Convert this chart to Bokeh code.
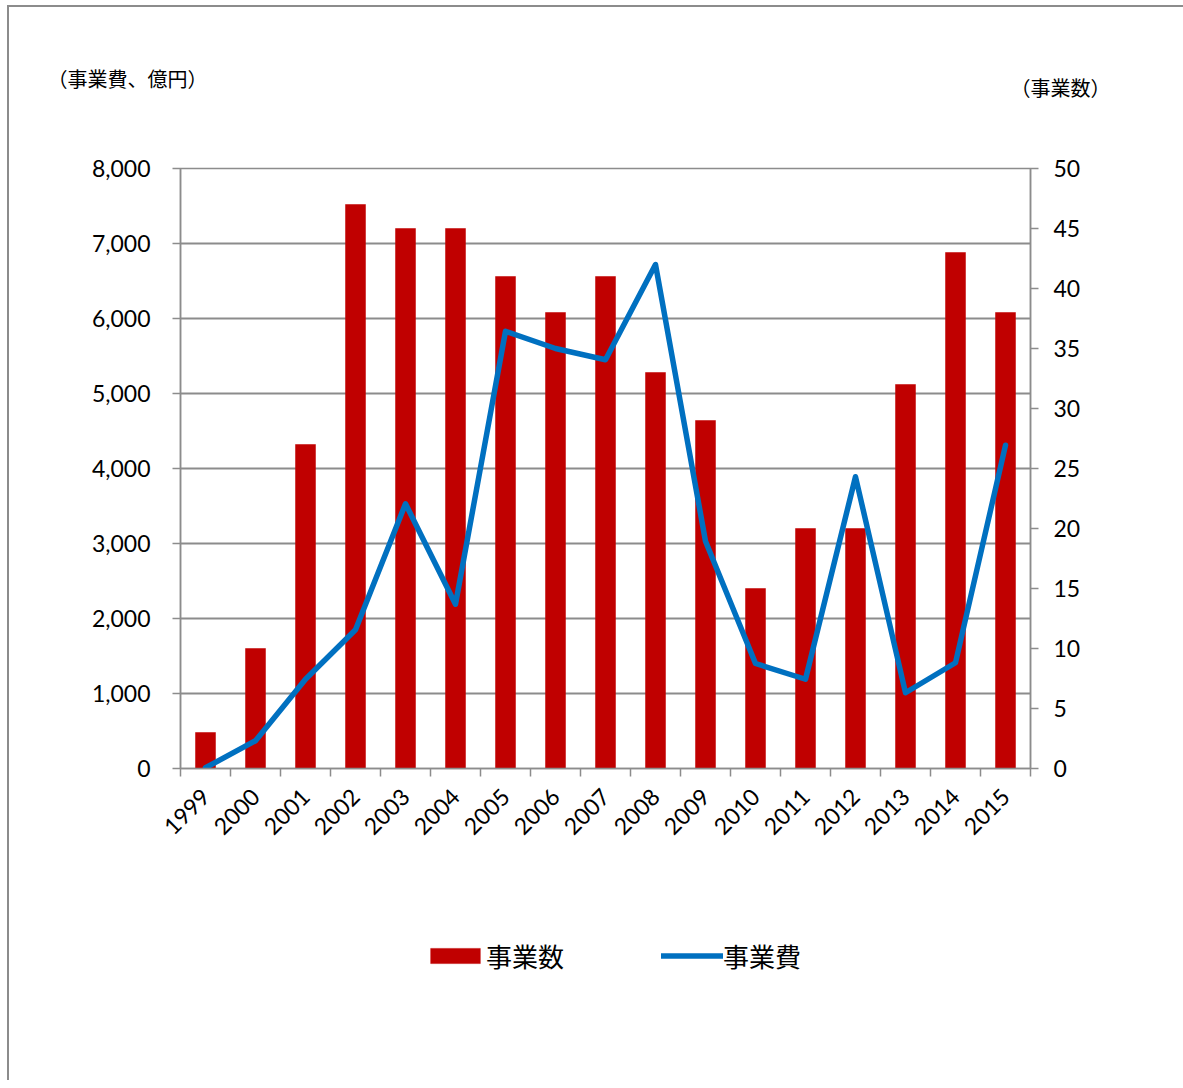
from bokeh.plotting import figure
from bokeh.layouts import column
from bokeh.models import (Range1d, LinearAxis, FixedTicker, NumeralTickFormatter,
                          Legend, LegendItem, Label, ColumnDataSource, Grid)
from bokeh.embed import file_html
from bokeh.resources import INLINE
import math

# ---- data ----
years = ["1999", "2000", "2001", "2002", "2003", "2004", "2005", "2006", "2007",
         "2008", "2009", "2010", "2011", "2012", "2013", "2014", "2015"]
project_count = [3, 10, 27, 47, 45, 45, 41, 38, 41, 33, 29, 15, 20, 20, 32, 43, 38]
project_cost = [10, 370, 1190, 1850, 3530, 2190, 5830, 5600, 5450, 6720, 3030,
                1400, 1190, 3890, 1010, 1410, 4310]
left_ticks = [0, 1000, 2000, 3000, 4000, 5000, 6000, 7000, 8000]
right_ticks = [0, 5, 10, 15, 20, 25, 30, 35, 40, 45, 50]
series_names = ["事業数", "事業費"]

NUM_FONT = "Lato"
JP_FONT = "Noto Sans CJK JP"
GRAY = "#8c8c8c"
RED = "#C00000"
BLUE = "#0070C0"

n = len(years)
xc = [i + 0.5 for i in range(n)]
src = ColumnDataSource(dict(x=xc, count=project_count, cost=project_cost, year=years))

W = 1174
ox, oy = 9, 7
frame_l, frame_r, frame_t, frame_b = 180, 1028, 168, 766
split_y = 900          # page y where the chart canvas ends and the legend strip starts
H2 = 180               # legend strip height

p = figure(frame_width=frame_r - frame_l, frame_height=frame_b - frame_t,
           output_backend="svg", toolbar_location=None,
           x_range=Range1d(0, n), y_range=Range1d(0, 8000),
           min_border_left=frame_l - ox, min_border_right=W - (frame_r - ox),
           min_border_top=frame_t - oy, min_border_bottom=split_y - frame_b,
           x_axis_location=None, y_axis_location=None)
p.outline_line_color = GRAY
p.outline_line_width = 1.5
p.background_fill_color = "white"
p.border_fill_color = "white"
p.styles = {"margin-left": f"{ox-2}px", "margin-top": f"{oy-2}px",
            "border-left": f"2px solid {GRAY}", "border-top": f"2px solid {GRAY}"}

p.extra_y_ranges = {"count": Range1d(0, 50)}

# bars (事業数, right axis)
bars = p.vbar(x="x", top="count", width=0.4, source=src, y_range_name="count",
              fill_color=RED, line_color=RED, line_width=0.5)
# line (事業費, left axis)
ln = p.line(x="x", y="cost", source=src, line_color=BLUE, line_width=5.5,
            line_join="round", line_cap="round")

# left / right axes
yl = LinearAxis(ticker=FixedTicker(ticks=left_ticks),
                formatter=NumeralTickFormatter(format="0,0"))
yr = LinearAxis(y_range_name="count", ticker=FixedTicker(ticks=right_ticks))
for ax, standoff in ((yl, 22), (yr, 15)):
    ax.axis_line_color = GRAY
    ax.axis_line_width = 1.5
    ax.major_tick_line_color = GRAY
    ax.major_tick_line_width = 1.5
    ax.major_tick_out = 8
    ax.major_tick_in = 0
    ax.minor_tick_line_color = None
    ax.major_label_standoff = standoff
    ax.major_label_text_font = NUM_FONT
    ax.major_label_text_font_size = "23px"
    ax.major_label_text_color = "black"
p.add_layout(yl, "left")
p.add_layout(yr, "right")

# bottom axis: labels at category centres, ticks at boundaries
xa = LinearAxis(ticker=FixedTicker(ticks=xc, minor_ticks=list(range(n + 1))),
                major_label_overrides={x: y for x, y in zip(xc, years)})
xa.axis_line_color = GRAY
xa.axis_line_width = 1.5
xa.major_tick_line_color = None
xa.major_tick_out = 0
xa.major_tick_in = 0
xa.minor_tick_line_color = GRAY
xa.minor_tick_line_width = 1.5
xa.minor_tick_out = 8
xa.minor_tick_in = 0
xa.major_label_orientation = math.pi / 4
xa.major_label_standoff = 16
xa.major_label_text_font = NUM_FONT
xa.major_label_text_font_size = "23px"
xa.major_label_text_color = "black"
p.add_layout(xa, "below")

# grid
p.ygrid.visible = False
p.xgrid.visible = False
p.add_layout(Grid(dimension=1, ticker=yl.ticker, grid_line_color=GRAY, grid_line_width=1.8))

# axis titles (placed in the panel above the frame so they are not clipped)
p.add_layout(Label(x=47 - frame_l, y=frame_t - 78, x_units="screen", y_units="screen",
                   text="（事業費、億円）", text_baseline="middle",
                   text_font=JP_FONT, text_font_size="20px", text_color="black"), "above")
p.add_layout(Label(x=1010 - frame_l, y=frame_t - 88 - 28, x_units="screen", y_units="screen",
                   text="（事業数）", text_baseline="middle",
                   text_font=JP_FONT, text_font_size="20px", text_color="black"), "above")

# legend strip (separate figure below the chart); its glyphs reuse the same
# series but the strip's x range keeps them out of view, only the legend shows
p2 = figure(frame_width=W, frame_height=H2, output_backend="svg", toolbar_location=None,
            x_range=Range1d(-200, -199), y_range=Range1d(0, 1),
            min_border=0, x_axis_location=None, y_axis_location=None)
p2.outline_line_color = None
p2.grid.visible = False
p2.background_fill_color = "white"
p2.border_fill_color = "white"
p2.styles = {"margin-left": f"{ox-2}px", "border-left": f"2px solid {GRAY}"}
lb = p2.vbar(x="x", top="count", width=0.4, source=src,
             fill_color=RED, line_color=RED, line_width=0.5)
ll = p2.line(x="x", y="cost", source=src, line_color=BLUE, line_width=5.5,
             line_cap="round")
legend = Legend(items=[LegendItem(label=series_names[0], renderers=[lb]),
                       LegendItem(label=series_names[1], renderers=[ll])],
                orientation="horizontal", location=(424 - ox, H2 - (974 - split_y)),
                glyph_width=62, glyph_height=19, label_standoff=0, spacing=97,
                padding=0, margin=0, border_line_color=None,
                background_fill_alpha=0,
                label_text_font=JP_FONT, label_text_font_size="26px",
                label_text_color="black")
p2.add_layout(legend, "center")

layout = column(p, p2, spacing=0)
open("out.html", "w").write(file_html(layout, INLINE))
